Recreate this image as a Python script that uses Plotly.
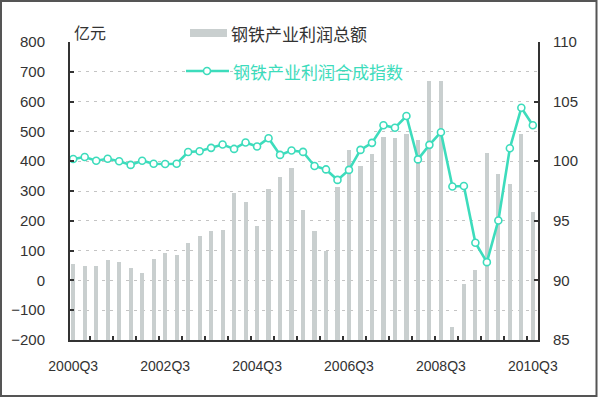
import plotly.graph_objects as go

# ---- data ----
quarters = [f"{y}Q{q}" for y in range(2000, 2011) for q in range(1, 5)][2:43]
profit_total = [55, 49, 49, 69, 62, 41, 25, 72, 91, 84,
                125, 148, 165, 170, 294, 264, 182, 308, 348, 376,
                236, 165, 98, 313, 436, 384, 425, 482, 479, 490,
                470, 668, 668, -158, -12, 36, 428, 358, 324, 490, 230]
profit_index = [100.19, 100.35, 100.04, 100.2, 100.0, 99.69, 100.04, 99.79, 99.76, 99.79,
                100.77, 100.84, 101.12, 101.4, 101.03, 101.57, 101.23, 101.93, 100.53, 100.9,
                100.78, 99.6, 99.31, 98.43, 99.27, 100.95, 101.54, 103.02, 102.8, 103.79,
                100.15, 101.37, 102.43, 97.88, 97.92, 93.16, 91.53, 95.03, 101.09, 104.48, 103.02]
tick_labels = ["2000Q3", "2002Q3", "2004Q3", "2006Q3", "2008Q3", "2010Q3"]
left_ticks = list(range(-200, 801, 100))
right_ticks = [85, 90, 95, 100, 105, 110]
bar_name = "钢铁产业利润总额"
line_name = "钢铁产业利润合成指数"
unit_label = "亿元"

BAR_BASE = -200
BAR_COLOR = "#c9cfcf"
LINE_COLOR = "#3ddcbc"
AXIS_COLOR = "#333333"
FONT = "Liberation Sans, Noto Sans CJK SC, sans-serif"
CJK = "Noto Sans CJK SC, sans-serif"

fig = go.Figure()
fig.add_trace(go.Bar(
    x=quarters, y=[v - BAR_BASE for v in profit_total], base=BAR_BASE,
    width=0.36, marker=dict(color=BAR_COLOR, line=dict(width=0)),
    name=bar_name, yaxis="y",
))
fig.add_trace(go.Scatter(
    x=quarters, y=profit_index, mode="lines+markers", name=line_name,
    line=dict(color=LINE_COLOR, width=2.6),
    marker=dict(symbol="circle", size=7, color="white",
                line=dict(color=LINE_COLOR, width=1.6)),
    yaxis="y2",
))

# plot area geometry (px)
L, R, T, B = 70, 538, 42, 340
W, H = 600, 399


def px_x(p):
    return (p - L) / (R - L)


def px_y(p):
    return (B - p) / (B - T)


fig.update_layout(
    width=W, height=H,
    margin=dict(l=L, r=W - R, t=T, b=H - B),
    paper_bgcolor="white", plot_bgcolor="white",
    showlegend=False,
    bargap=0,
    font=dict(family=FONT, size=15, color=AXIS_COLOR),
    xaxis=dict(
        type="category", categoryorder="array", categoryarray=quarters,
        range=[-0.28, 40.45],
        tickmode="array", tickvals=tick_labels, ticktext=tick_labels,
        ticks="", showgrid=False, zeroline=False,
        showline=True, linecolor=AXIS_COLOR, linewidth=2,
        tickfont=dict(family=FONT, size=14, color=AXIS_COLOR),
        ticklabelstandoff=12,
    ),
    yaxis=dict(
        range=[-200, 800], tickmode="array", tickvals=left_ticks,
        ticks="inside", ticklen=4, tickwidth=2, tickcolor=AXIS_COLOR,
        showline=True, linecolor=AXIS_COLOR, linewidth=2,
        showgrid=True, gridcolor="#c4c4c4", griddash="3px,5px", gridwidth=1,
        zeroline=False,
        tickfont=dict(family=FONT, size=15, color=AXIS_COLOR),
        ticklabelstandoff=20,
    ),
    yaxis2=dict(
        range=[85, 110], tickmode="array", tickvals=right_ticks,
        overlaying="y", side="right",
        ticks="inside", ticklen=4, tickwidth=2, tickcolor=AXIS_COLOR,
        showline=True, linecolor=AXIS_COLOR, linewidth=2,
        showgrid=False, zeroline=False,
        tickfont=dict(family=FONT, size=15, color=AXIS_COLOR),
        ticklabelstandoff=10,
    ),
)

# minor inside ticks on the category axis
fig.update_xaxes(minor=dict(ticks="inside", ticklen=4, tickwidth=2,
                            tickcolor=AXIS_COLOR, tick0=1.5, dtick=2,
                            showgrid=False))

shapes = []
# outer frame
shapes.append(dict(type="rect", xref="paper", yref="paper",
                   x0=px_x(1), x1=px_x(596.5), y0=px_y(396), y1=px_y(1),
                   line=dict(color="#555555", width=2), fillcolor="rgba(0,0,0,0)",
                   layer="above"))
# legend swatches
shapes.append(dict(type="rect", xref="paper", yref="paper",
                   x0=px_x(190), x1=px_x(227), y0=px_y(37), y1=px_y(29),
                   line=dict(width=0), fillcolor=BAR_COLOR))
shapes.append(dict(type="line", xref="paper", yref="paper",
                   x0=px_x(186), x1=px_x(229), y0=px_y(71), y1=px_y(71),
                   line=dict(color=LINE_COLOR, width=2.6)))
shapes.append(dict(type="circle", xref="paper", yref="paper",
                   x0=px_x(203.5), x1=px_x(210.5), y0=px_y(74.5), y1=px_y(67.5),
                   line=dict(color=LINE_COLOR, width=1.6), fillcolor="white"))
fig.update_layout(shapes=shapes)

fig.add_annotation(xref="paper", yref="paper", x=px_x(229), y=px_y(33),
                   xanchor="left", yanchor="middle", showarrow=False,
                   text=bar_name, font=dict(family=CJK, size=17, color="#333333"))
fig.add_annotation(xref="paper", yref="paper", x=px_x(231), y=px_y(71),
                   xanchor="left", yanchor="middle", showarrow=False,
                   text=line_name, font=dict(family=CJK, size=17, color=LINE_COLOR))
fig.add_annotation(xref="paper", yref="paper", x=px_x(72), y=px_y(32),
                   xanchor="left", yanchor="middle", showarrow=False,
                   text=unit_label, font=dict(family=CJK, size=16, color="#333333"))

fig.write_html("out.html")
